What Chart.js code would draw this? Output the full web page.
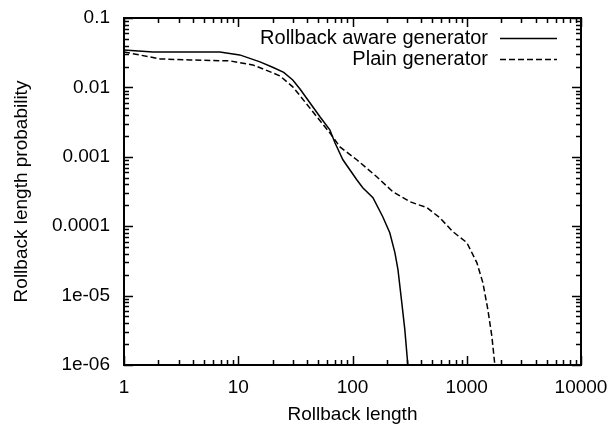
<!DOCTYPE html>
<html>
<head>
<meta charset="utf-8">
<script src="https://cdn.jsdelivr.net/npm/chart.js@4.4.0/dist/chart.umd.min.js"></script>
<style>
  html, body { margin: 0; padding: 0; background: #fff; }
  #wrap { width: 610px; height: 426px; }
</style>
</head>
<body>
<div id="wrap"><canvas id="grafRollback" width="610" height="426"></canvas></div>
<script>
// DATOS
const serieNombres = ['Rollback aware generator', 'Plain generator'];

const awareX = [1, 1.79, 3.78, 6.9, 10.3, 15.5, 20, 25, 30, 34.7, 51.9, 63.3, 70.2, 82.4, 109, 123, 151, 184, 212, 235, 250, 270, 287, 305];
const awareY = [0.0347, 0.0324, 0.0324, 0.0324, 0.0294, 0.0233, 0.0195, 0.0165, 0.0128, 0.0095, 0.00377, 0.00245, 0.00159, 0.000906, 0.000467, 0.000358, 0.000257, 0.000137, 8.05e-5, 4.16e-5, 2.37e-5, 7.94e-6, 3.24e-6, 1.0e-6];

const plainX = [1, 2.07, 3.78, 8.46, 13.4, 20.1, 23.2, 30, 34.7, 48.8, 63.3, 77.6, 109, 163, 226, 318, 448, 582, 756, 1002, 1225, 1383, 1530, 1660, 1762];
const plainY = [0.0324, 0.0257, 0.0249, 0.0241, 0.0211, 0.0162, 0.0146, 0.0102, 0.0076, 0.00377, 0.00221, 0.00139, 0.000906, 0.000515, 0.000313, 0.000225, 0.000185, 0.000132, 8.34e-5, 5.8e-5, 2.99e-5, 1.54e-5, 6.3e-6, 2.57e-6, 1.0e-6];

const ticksX = [1, 10, 100, 1000, 10000];
const ticksY = [1e-6, 1e-5, 1e-4, 1e-3, 1e-2, 1e-1];
const etiquetasY = ['1e-06', '1e-05', '0.0001', '0.001', '0.01', '0.1'];

const fuente = { family: 'Liberation Sans, Arial, Helvetica, sans-serif', size: 19 };

function puntos(xs, ys) {
    return xs.map((x, i) => ({ x: x, y: ys[i] }));
}

// marco y ticks hacia adentro, estilo gnuplot
const marcoPlugin = {
    id: 'marco',
    afterDatasetsDraw(chart) {
        const ctx = chart.ctx;
        const a = chart.chartArea;
        const sx = chart.scales.x, sy = chart.scales.y;
        ctx.save();
        ctx.strokeStyle = '#000';
        ctx.lineWidth = 1.5;
        ctx.beginPath();
        function marcas(escala, min, max, vertical) {
            for (let d = Math.floor(Math.log10(min)); d <= Math.ceil(Math.log10(max)); d++) {
                for (let k = 1; k <= 9; k++) {
                    const v = k * Math.pow(10, d);
                    if (v < min * 0.999 || v > max * 1.001) continue;
                    const p = Math.round(escala.getPixelForValue(v)) + 0.5;
                    const largo = k === 1 ? 9 : 5;
                    if (vertical) {
                        ctx.moveTo(p, a.bottom); ctx.lineTo(p, a.bottom - largo);
                        ctx.moveTo(p, a.top); ctx.lineTo(p, a.top + largo);
                    } else {
                        ctx.moveTo(a.left, p); ctx.lineTo(a.left + largo, p);
                        ctx.moveTo(a.right, p); ctx.lineTo(a.right - largo, p);
                    }
                }
            }
        }
        marcas(sx, 1, 10000, true);
        marcas(sy, 1e-6, 0.1, false);
        ctx.stroke();
        ctx.lineWidth = 2;
        ctx.strokeRect(a.left, a.top, a.right - a.left, a.bottom - a.top);

        // leyenda
        ctx.font = '20px ' + fuente.family;
        ctx.fillStyle = '#000';
        ctx.textAlign = 'right';
        ctx.textBaseline = 'middle';
        chart.data.datasets.forEach((ds, i) => {
            const y = 38 + i * 21;
            ctx.fillText(ds.label, 488, y);
            ctx.beginPath();
            ctx.lineWidth = 1.5;
            ctx.setLineDash(ds.borderDash || []);
            ctx.moveTo(500, y + 0.5);
            ctx.lineTo(557, y + 0.5);
            ctx.stroke();
        });
        ctx.setLineDash([]);
        ctx.restore();
    }
};

// grid invisible: solo sirve para separar las etiquetas del eje
const gridHueco = (largo) => ({
    display: true,
    drawOnChartArea: false,
    drawTicks: true,
    tickLength: largo,
    color: 'rgba(0,0,0,0)'
});

const ctxR = document.getElementById('grafRollback').getContext('2d');
const grafRollback = new Chart(ctxR, {
    type: 'line',
    data: {
        datasets: [{
            label: serieNombres[0],
            data: puntos(awareX, awareY),
            borderColor: '#000',
            borderWidth: 1.5,
            pointRadius: 0,
            tension: 0,
            fill: false
        }, {
            label: serieNombres[1],
            data: puntos(plainX, plainY),
            borderColor: '#000',
            borderWidth: 1.5,
            borderDash: [6, 3],
            pointRadius: 0,
            tension: 0,
            fill: false
        }]
    },
    options: {
        responsive: false,
        animation: false,
        layout: { padding: { top: 18, right: 29, left: 0, bottom: 0 } },
        plugins: {
            legend: { display: false },
            tooltip: { enabled: false }
        },
        scales: {
            x: {
                type: 'logarithmic',
                min: 1,
                max: 10000,
                afterBuildTicks: (s) => { s.ticks = ticksX.map(v => ({ value: v })); },
                afterFit: (s) => { s.height = 61; },
                grid: gridHueco(11),
                border: { display: false },
                ticks: {
                    color: '#000',
                    font: fuente,
                    padding: 0,
                    maxRotation: 0,
                    autoSkip: false,
                    callback: (v) => String(v)
                },
                title: {
                    display: true,
                    text: 'Rollback length',
                    color: '#000',
                    font: fuente,
                    padding: { top: 0, bottom: 0 }
                }
            },
            y: {
                type: 'logarithmic',
                min: 1e-6,
                max: 0.1,
                afterBuildTicks: (s) => { s.ticks = ticksY.map(v => ({ value: v })); },
                afterFit: (s) => { s.width = 124; },
                grid: gridHueco(14),
                border: { display: false },
                ticks: {
                    color: '#000',
                    font: fuente,
                    padding: 0,
                    autoSkip: false,
                    callback: (v) => {
                        const i = ticksY.findIndex(t => Math.abs(t - v) / t < 1e-6);
                        return i >= 0 ? etiquetasY[i] : '';
                    }
                },
                title: {
                    display: true,
                    text: 'Rollback length probability',
                    color: '#000',
                    font: fuente,
                    padding: { top: 10, bottom: 0 }
                }
            }
        }
    },
    plugins: [marcoPlugin]
});
</script>
</body>
</html>
